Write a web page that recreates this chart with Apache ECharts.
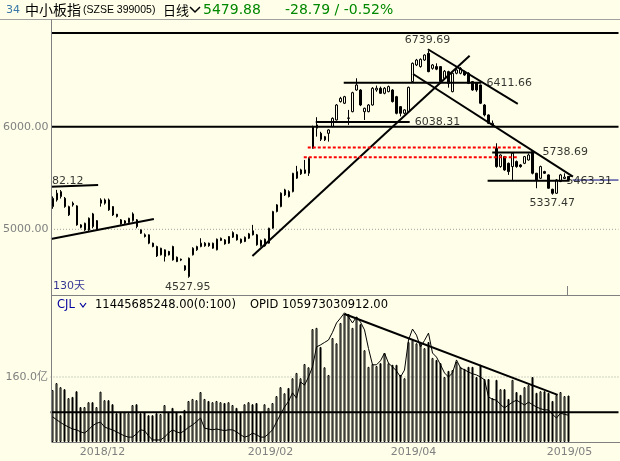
<!DOCTYPE html>
<html><head><meta charset="utf-8">
<script src="https://cdn.jsdelivr.net/npm/echarts@6/dist/echarts.min.js"></script>
<style>html,body{margin:0;padding:0;background:#FFFFE9}#c{width:620px;height:461px}</style>
</head><body><div id="c"></div>
<script>
// ---- data ----
const open  = [5221,5286,5319,5302,5140,5254,5228,5043,4994,4994,5150,4994,5254,5254,5286,5221,5147,5092,5059,5066,5085,5092,4994,4946,4946,4865,4832,4751,4735,4784,4832,4728,4709,4644,4540,4751,4800,4832,4839,4865,4816,4800,4891,4897,4865,4923,4946,4904,4881,4913,4985,4946,4891,4839,4865,5011,5173,5221,5335,5367,5367,5498,5540,5546,5546,5790,5985,5935,5871,5935,6001,6065,6244,6228,6081,6146,6357,6357,6146,6146,6211,6357,6374,6325,6341,6357,6292,6195,6130,6146,6439,6601,6585,6649,6714,6568,6585,6585,6470,6536,6341,6520,6520,6536,6520,6439,6422,6406,6211,6114,6017,5789,5611,5708,5643,5611,5660,5627,5643,5675,5757,5546,5497,5562,5530,5390,5351,5465,5495,5514];
const close = [5302,5352,5367,5221,5221,5238,5043,5020,5059,5108,5027,5085,5286,5286,5189,5140,5124,5053,5082,5108,5150,5027,4962,4930,4865,4832,4741,4816,4800,4751,4702,4686,4700,4605,4719,4816,4832,4865,4865,4840,4865,4904,4913,4858,4930,4969,4897,4871,4923,4956,4946,4849,4839,4904,5011,5173,5238,5352,5384,5319,5546,5562,5579,5579,5692,6001,6017,5877,5903,5968,6081,6211,6276,6292,6085,6331,6406,6211,6179,6211,6374,6374,6325,6374,6390,6244,6130,6130,6163,6383,6617,6649,6656,6698,6536,6601,6560,6439,6540,6422,6520,6552,6568,6503,6422,6357,6357,6228,6114,6033,6033,5611,5724,5578,5562,5741,5611,5611,5708,5724,5546,5481,5611,5546,5400,5351,5481,5530,5508.67,5479.88];
const low   = [5200,5270,5300,5210,5130,5221,5035,5010,4985,4985,5010,4985,5221,5240,5180,5130,5115,5045,5050,5060,5075,5010,4955,4920,4855,4825,4730,4745,4686,4745,4695,4680,4690,4595,4527.95,4745,4790,4825,4830,4830,4810,4795,4885,4850,4858,4915,4890,4860,4875,4905,4940,4840,4830,4830,4860,5005,5165,5215,5325,5310,5360,5490,5530,5540,5520,5785,5903,5860,5860,5854,5995,6060,6235,6220,6017,6140,6350,6200,6065,6140,6205,6340,6320,6315,6335,6235,6120,6100,6120,6140,6430,6590,6575,6640,6530,6555,6550,6430,6455,6380,6335,6510,6510,6495,6415,6350,6340,6220,6100,6025,6010,5600,5600,5570,5530,5481,5600,5600,5635,5670,5535,5400,5490,5540,5395,5337.47,5345,5460,5490,5470];
const high  = [5320,5384,5382,5315,5230,5270,5235,5050,5065,5115,5160,5090,5302,5300,5300,5225,5150,5100,5090,5112,5165,5100,5000,4960,4950,4870,4840,4820,4805,4790,4840,4735,4715,4650,4725,4825,4840,4913,4875,4870,4870,4910,4920,4905,4935,4980,4955,4910,4930,4965,5043,4955,4900,4910,5015,5180,5245,5360,5395,5380,5550,5618,5590,5676,5700,6010,6092,5950,5910,5975,6090,6220,6290,6300,6163,6340,6471,6365,6185,6220,6385,6400,6390,6385,6400,6365,6300,6200,6170,6390,6625,6660,6665,6705,6739.69,6610,6617,6590,6552,6545,6525,6560,6580,6545,6530,6445,6430,6410,6220,6120,6060,5838,5730,5715,5650,5750,5670,5635,5715,5738.69,5760,5550,5620,5570,5535,5395,5490,5540,5545,5520];
// volume in 亿
const volume = [128,145,135,130,108,111,125,86,86,98,98,86,124,103,103,93,71,74,74,71,91,93,71,74,66,66,71,69,91,74,84,74,66,79,101,106,103,123,106,101,98,101,98,96,98,91,84,74,93,98,93,96,74,93,84,96,113,135,120,133,157,170,157,192,184,278,281,234,184,165,256,243,293,315,315,281,308,290,226,185,192,187,194,219,194,190,190,165,157,246,251,243,243,231,246,207,202,194,160,175,177,197,185,180,185,185,160,190,155,155,108,153,130,130,106,153,123,116,135,140,160,121,125,125,121,101,116,123,113,114.46];
const volLine = [62,55,48,42,37,32,30,25,22,30,40,46,49,37,33,30,25,20,15,12,12,20,30,28,15,5,5,5,12,22,30,25,22,28,36,42,50,59,34,32,30,32,30,28,30,30,25,18,12,15,22,18,12,12,20,30,49,68,86,100,121,108,148,140,160,185,234,239,245,251,270,293,305,318,308,293,308,295,276,230,190,190,200,219,194,185,175,160,177,251,278,263,234,250,268,219,209,190,170,160,170,202,182,178,172,168,165,160,153,111,105,103,92,84,91,98,103,97,91,98,92,86,82,79,79,68,59,71,68,66];
const totalSlots = 142;
const monthLabels = ['2018/12','2019/02','2019/04','2019/05'];
const monthPos = [12.5, 54.5, 90.25, 129.25];
const priceTicks = [5000, 6000];
const volTicks = [160];
// annotations in [index, price] coordinates
const blackLines = [
  [-0.5,6912,141.5,6912],
  [-0.5,6000,141.5,6000],
  [-0.5,5415,11.3,5432],
  [-0.5,4905,25.25,5101],
  [49.9,4741,104.25,6691],
  [93.8,6754,116.3,6221],
  [90.1,6513,130.1,5513],
  [72.75,6428,107.2,6428],
  [65.75,6046,89.25,6046],
  [109.9,5747,120.5,5747],
  [108.75,5474,129.25,5474]
];
const redDotLines = [
  [63.75,5796,117.25,5796],
  [62.75,5702,116.25,5702]
];
const lastPriceLine = [[130,5480,141.5,5480]];
const gridLinesPrice = [[-0.5,5000,141.5,5000]];
const volBlackLines = [
  [-0.5,73,141.5,73],
  [73,315,126.3,116]
];
const gridLinesVol = [[-0.5,160,141.5,160]];
const priceLabels = [
  [88,6844,'6739.69'],
  [108.5,6428,'6411.66'],
  [90.5,6046,'6038.31'],
  [122.5,5749,'5738.69'],
  [128.5,5471,'5463.31'],
  [119.25,5257,'5337.47'],
  [28,4439,'4527.95'],
  [-0.25,5471,'82.12']
];
const dayLabel = [[0,4449,'130天']];

// ---- chart ----
const BG = '#FFFFE9';
const cats = Array.from({length: totalSlots}, (_, i) => String(i));
const candleData = open.map((o, i) => [o, close[i], low[i], high[i]]);
const volData = volume.map((v, i) => ({
  value: v,
  itemStyle: close[i] >= open[i]
    ? {color: BG, borderColor: '#000', borderWidth: 1}
    : {color: '#000', borderColor: '#000', borderWidth: 1}
}));

function seg(list, xi, yi, style, z) {
  return list.map(s => ({
    type: 'line', xAxisIndex: xi, yAxisIndex: yi, silent: true,
    data: [[s[0], s[1]], [s[2], s[3]]], symbol: 'none',
    lineStyle: style, z: z
  }));
}
function labels(list, color) {
  return {
    type: 'scatter', xAxisIndex: 2, yAxisIndex: 0, silent: true, symbolSize: 0, z: 20,
    data: list.map(l => ({value: [l[0], l[1]], name: l[2]})),
    label: {show: true, position: [0, 0], align: 'left', verticalAlign: 'middle',
      formatter: p => p.name, color: color,
      fontFamily: 'DejaVu Sans, Noto Sans CJK SC', fontSize: 11}
  };
}
const axisFont = {color: '#808080', fontFamily: 'DejaVu Sans, Noto Sans CJK SC', fontSize: 11};
const G = {left: 50.5, right: 1.5};

const chart = echarts.init(document.getElementById('c'), null, {renderer: 'canvas'});
chart.setOption({
  animation: false,
  backgroundColor: BG,
  grid: [
    {left: G.left, right: G.right, top: 20, height: 275},
    {left: G.left, right: G.right, top: 295, height: 147}
  ],
  xAxis: [
    {gridIndex: 0, type: 'category', data: cats, position: 'bottom',
      axisLine: {show: false}, axisTick: {show: false}, axisLabel: {show: false}},
    {gridIndex: 1, type: 'category', data: cats, position: 'bottom',
      axisLine: {show: false}, axisTick: {show: false}, axisLabel: {show: false}},
    {gridIndex: 0, type: 'value', min: -0.5, max: totalSlots - 0.5, position: 'bottom',
      axisLine: {show: false}, splitLine: {show: false}, axisLabel: {show: false},
      axisTick: {show: true, customValues: [128.6], inside: true, length: 9, lineStyle: {color: '#808080'}}},
    {gridIndex: 1, type: 'value', min: -0.5, max: totalSlots - 0.5, position: 'bottom',
      axisLine: {show: false}, splitLine: {show: false}, axisTick: {show: false},
      axisLabel: Object.assign({customValues: monthPos, margin: 5,
        formatter: v => monthLabels[monthPos.indexOf(v)] || ''}, axisFont)}
  ],
  yAxis: [
    {gridIndex: 0, type: 'value', min: 4360, max: 7039,
      axisLine: {show: false}, axisTick: {show: false}, splitLine: {show: false},
      axisLabel: Object.assign({customValues: priceTicks, margin: 2.5, formatter: v => v.toFixed(2)}, axisFont)},
    {gridIndex: 1, type: 'value', min: 0, max: 361.8,
      axisLine: {show: false}, axisTick: {show: false}, splitLine: {show: false},
      axisLabel: Object.assign({customValues: volTicks, margin: 2.5, formatter: v => v.toFixed(1) + '亿'}, axisFont)}
  ],
  series: [
    ...seg(gridLinesPrice, 2, 0, {color: '#a0a0a0', width: 1, type: [1, 2]}, 1),
    ...seg(gridLinesVol, 3, 1, {color: '#a0a0a0', width: 1, type: [1, 2]}, 1),
    {type: 'candlestick', xAxisIndex: 0, yAxisIndex: 0, data: candleData, barWidth: 2, z: 5,
      itemStyle: {color: BG, color0: '#000', borderColor: '#000', borderColor0: '#000', borderWidth: 1}},
    {type: 'bar', xAxisIndex: 1, yAxisIndex: 1, data: volData, barWidth: 2, z: 5},
    {type: 'line', xAxisIndex: 1, yAxisIndex: 1, data: volLine, symbol: 'none', z: 6,
      lineStyle: {color: '#000', width: 1}},
    ...seg(blackLines, 2, 0, {color: '#000', width: 2}, 10),
    ...seg(redDotLines, 2, 0, {color: '#ff0000', width: 2, type: [3, 2]}, 10),
    ...seg(lastPriceLine, 2, 0, {color: '#000080', width: 1}, 10),
    ...seg(volBlackLines, 3, 1, {color: '#000', width: 2}, 10),
    labels(priceLabels, '#000'),
    labels(dayLabel, '#000080')
  ],
  graphic: [
    {type: 'line', shape: {x1: 0, y1: 19.5, x2: 620, y2: 19.5}, style: {stroke: '#a0a0a0', lineWidth: 1}, z: 50},
    {type: 'line', shape: {x1: 51.5, y1: 19.5, x2: 51.5, y2: 442}, style: {stroke: '#808080', lineWidth: 1}, z: 50},
    {type: 'line', shape: {x1: 51.5, y1: 295.5, x2: 620, y2: 295.5}, style: {stroke: '#808080', lineWidth: 1}, z: 50},
    {type: 'line', shape: {x1: 51.5, y1: 442.5, x2: 620, y2: 442.5}, style: {stroke: '#808080', lineWidth: 1}, z: 50},
    {type: 'text', x: 6, y: 10, style: {text: '34', fill: '#3a78a8', font: '11px "DejaVu Sans"', textVerticalAlign: 'middle'}},
    {type: 'text', x: 25, y: 10, style: {text: '中小板指', fill: '#000', font: '14px "Noto Sans CJK SC"', textVerticalAlign: 'middle'}},
    {type: 'text', x: 83, y: 10, style: {text: '(SZSE 399005)', fill: '#000', font: '10.5px "Liberation Sans"', textVerticalAlign: 'middle'}},
    {type: 'text', x: 163, y: 10, style: {text: '日线', fill: '#000', font: '13px "Noto Sans CJK SC"', textVerticalAlign: 'middle'}},
    {type: 'polyline', shape: {points: [[190, 7], [195, 12], [200, 7]]}, style: {stroke: '#000', lineWidth: 1.5, fill: null}},
    {type: 'text', x: 203, y: 10, style: {text: '5479.88', fill: '#008800', font: '14px "DejaVu Sans"', textVerticalAlign: 'middle'}},
    {type: 'text', x: 285, y: 10, style: {text: '-28.79 / -0.52%', fill: '#008800', font: '14px "DejaVu Sans"', textVerticalAlign: 'middle'}},
    {type: 'text', x: 57, y: 305, style: {text: 'CJL', fill: '#0000a0', font: '11.5px "DejaVu Sans"', textVerticalAlign: 'middle'}},
    {type: 'polyline', shape: {points: [[80, 303], [83, 307], [86, 303]]}, style: {stroke: '#0000a0', lineWidth: 1.2, fill: null}},
    {type: 'text', x: 95, y: 305, style: {text: '11445685248.00(0:100)', fill: '#000', font: '11.5px "DejaVu Sans"', textVerticalAlign: 'middle'}},
    {type: 'text', x: 250, y: 305, style: {text: 'OPID 105973030912.00', fill: '#000', font: '11.5px "DejaVu Sans"', textVerticalAlign: 'middle'}}
  ]
});
</script>
</body></html>
